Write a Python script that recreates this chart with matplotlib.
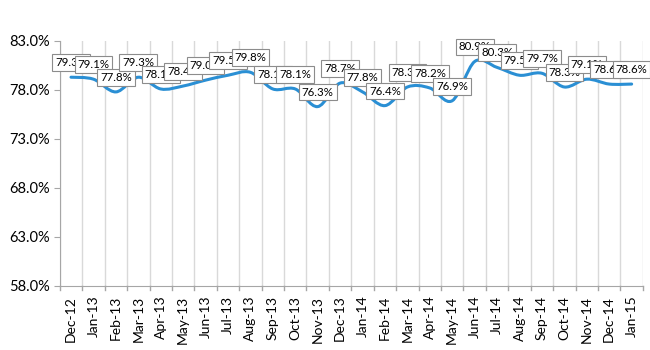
import matplotlib
matplotlib.use("Agg")
import matplotlib.pyplot as plt
from matplotlib.path import Path
from matplotlib.patches import PathPatch
from matplotlib.ticker import FuncFormatter
import numpy as np

months = ["Dec-12", "Jan-13", "Feb-13", "Mar-13", "Apr-13", "May-13", "Jun-13",
          "Jul-13", "Aug-13", "Sep-13", "Oct-13", "Nov-13", "Dec-13", "Jan-14",
          "Feb-14", "Mar-14", "Apr-14", "May-14", "Jun-14", "Jul-14", "Aug-14",
          "Sep-14", "Oct-14", "Nov-14", "Dec-14", "Jan-15"]
values = [79.3, 79.1, 77.8, 79.3, 78.1, 78.4, 79.0, 79.5, 79.8, 78.1, 78.1, 76.3,
          78.7, 77.8, 76.4, 78.3, 78.2, 76.9, 80.9, 80.3, 79.5, 79.7, 78.3, 79.1,
          78.6, 78.6]
y_ticks = [58.0, 63.0, 68.0, 73.0, 78.0, 83.0]

plt.rcParams['font.family'] = ['Lato', 'DejaVu Sans']

fig = plt.figure(figsize=(6.5, 3.5), dpi=100)
ax = fig.add_axes([0.092, 0.183, 0.897, 0.700])

n = len(values)
x = np.arange(n)
y = np.array(values)

# smooth line (Catmull-Rom -> Bezier), drawn through data points
verts = [(x[0], y[0])]
codes = [Path.MOVETO]
for i in range(n - 1):
    p0 = np.array([x[max(i - 1, 0)], y[max(i - 1, 0)]])
    p1 = np.array([x[i], y[i]])
    p2 = np.array([x[i + 1], y[i + 1]])
    p3 = np.array([x[min(i + 2, n - 1)], y[min(i + 2, n - 1)]])
    c1 = p1 + (p2 - p0) / 6.0
    c2 = p2 - (p3 - p1) / 6.0
    verts += [tuple(c1), tuple(c2), tuple(p2)]
    codes += [Path.CURVE4] * 3
patch = PathPatch(Path(verts, codes), facecolor='none', edgecolor='#2a8fd4',
                  lw=2.2, capstyle='round', joinstyle='round', zorder=3)
ax.add_patch(patch)

for xi, yi in zip(x, y):
    ax.annotate(f"{yi:.1f}%", (xi, yi), xytext=(0, 10.5), textcoords='offset points',
                ha='center', va='center', fontsize=8.3, color='black', zorder=5,
                annotation_clip=False,
                bbox=dict(boxstyle='square,pad=0.25', fc='white', ec='#8c8c8c', lw=0.8))

ax.set_xlim(-0.5, n - 0.5)
ax.set_ylim(58, 83)
ax.set_yticks(y_ticks)
ax.yaxis.set_major_formatter(FuncFormatter(lambda v, p: f"{v:.1f}%"))
ax.set_xticks(x)
ax.set_xticklabels(months, rotation=90, fontsize=10)
ax.tick_params(axis='x', length=0, pad=7)
ax.tick_params(axis='y', labelsize=10.5, length=4, color='#a6a6a6', pad=3)

for b in np.arange(-0.5, n, 1.0):
    ax.axvline(b, color='#d9d9d9', lw=1, zorder=1)
    ax.plot([b, b], [0, -0.015], transform=ax.get_xaxis_transform(),
            color='#a6a6a6', lw=1, clip_on=False)

for s in ['top', 'right']:
    ax.spines[s].set_visible(False)
for s in ['left', 'bottom']:
    ax.spines[s].set_color('#a6a6a6')

fig.savefig("out.png", dpi=100)
